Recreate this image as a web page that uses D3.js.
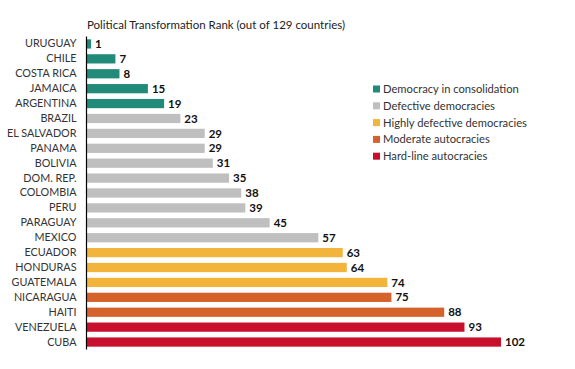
<!DOCTYPE html>
<html><head><meta charset="utf-8">
<script src="https://cdn.jsdelivr.net/npm/d3@7"></script>
<style>body{margin:0;background:#fff}svg{display:block}text{font-family:Lato,"Open Sans",sans-serif}</style>
</head><body><svg id="c" width="575" height="369"></svg>
<script>
const countries = ["URUGUAY","CHILE","COSTA RICA","JAMAICA","ARGENTINA","BRAZIL","EL SALVADOR","PANAMA","BOLIVIA","DOM. REP.","COLOMBIA","PERU","PARAGUAY","MEXICO","ECUADOR","HONDURAS","GUATEMALA","NICARAGUA","HAITI","VENEZUELA","CUBA"];
const ranks = [1,7,8,15,19,23,29,29,31,35,38,39,45,57,63,64,74,75,88,93,102];
const groups = [0,0,0,0,0,1,1,1,1,1,1,1,1,1,2,2,2,3,3,4,4];
const categories = ["Democracy in consolidation","Defective democracies","Highly defective democracies","Moderate autocracies","Hard-line autocracies"];
const colors = ["#218a78","#bfbfbf","#f2b43a","#d5622a","#c8102e"];
const title = "Political Transformation Rank (out of 129 countries)";

const svg = d3.select("#c");
const x = d3.scaleLinear().domain([0,102]).range([87,501]);
const y = d3.scaleBand().domain(countries).range([36.5,349.5]).paddingInner(0.38).paddingOuter(0.19);

svg.append("text").attr("x",87).attr("y",28.5).attr("font-size",11.5).attr("fill","#222").text(title);

svg.selectAll("rect.bar").data(countries).join("rect").attr("class","bar")
  .attr("x",x(0)).attr("y",d=>y(d)).attr("height",y.bandwidth())
  .attr("width",(d,i)=>x(ranks[i])-x(0)).attr("fill",(d,i)=>colors[groups[i]]);

svg.selectAll("text.val").data(countries).join("text").attr("class","val")
  .attr("x",(d,i)=>x(ranks[i])+4).attr("y",d=>y(d)+y.bandwidth()/2).attr("dy","0.36em")
  .attr("font-size",11.5).attr("font-weight","bold").attr("fill","#111").text((d,i)=>ranks[i]);

const ax = svg.append("g").attr("transform",`translate(${x(0)-0.5},0)`).call(d3.axisLeft(y).tickSize(0).tickPadding(10));
ax.select(".domain").attr("stroke","#000").attr("stroke-width",1.2).attr("d",`M0,${36.5}V${349.5}`);
ax.selectAll("text").attr("font-family","Lato, 'Open Sans', sans-serif").attr("font-size",10.8).attr("fill","#333");

const leg = svg.append("g");
categories.forEach((c,i)=>{
  const yy = 89 + i*16.8;
  leg.append("rect").attr("x",373).attr("y",yy-3.5).attr("width",7).attr("height",7).attr("fill",colors[i]);
  leg.append("text").attr("x",383).attr("y",yy).attr("dy","0.36em").attr("font-size",11.2).attr("fill","#333").text(c);
});
</script></body></html>
